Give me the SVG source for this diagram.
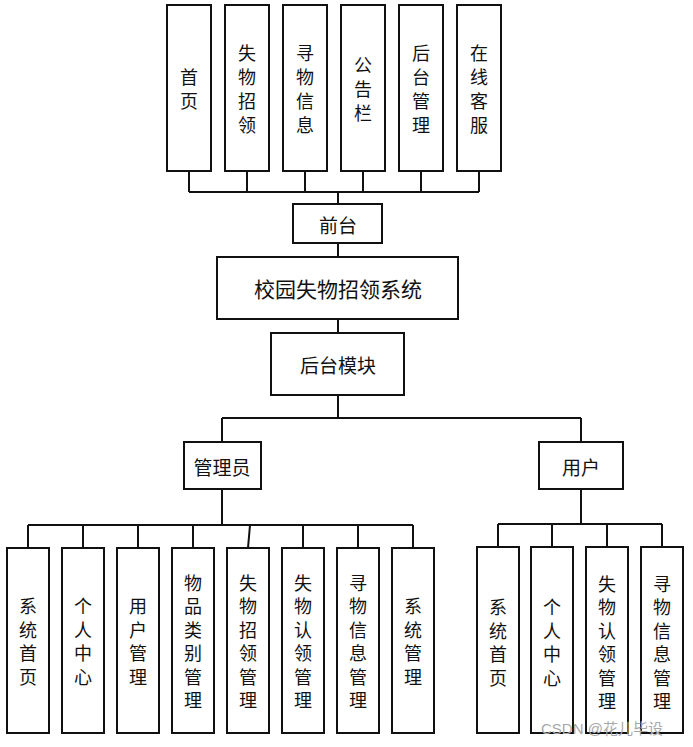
<svg xmlns="http://www.w3.org/2000/svg" width="693" height="747" viewBox="0 0 693 747">
<style>
.box{fill:#fff;stroke:#111;stroke-width:2}
.ln{stroke:#111;stroke-width:2;fill:none}
.t{font-family:"Noto Sans CJK SC","Noto Sans",sans-serif;fill:#111;text-anchor:middle;dominant-baseline:central}
.s18{font-size:18px}
.s19{font-size:19px}
.s21{font-size:21px}
.wm{font-family:"Liberation Sans","Noto Sans CJK SC",sans-serif;font-size:15px;fill:#a8a8a8}
</style>
<rect width="693" height="747" fill="#fff"/>
<g id="connectors">
<path class="ln" d="M189 171V192M247 171V192M305 171V192M363 171V192M421 171V192M479 171V192M189 192H479M338 192V204"/>
<path class="ln" d="M338 243V257M338 319V333M338 395V418M222 418H581M222 418V442M581 418V442"/>
<path class="ln" d="M222 489V525M28 525H413M28 525V548M83 525V548M138 525V548M193 525V548M250 525L248 548M303 525V548M358 525V548M413 525V548"/>
<path class="ln" d="M581 489V524M498 524H662M498 524V547M552 524V547M607 524V547M662 524V547"/>
</g>
<g id="n-home"><rect class="box" x="167" y="5" width="44" height="166"/><text class="t s18"><tspan x="189" y="76">首</tspan><tspan x="189" y="100">页</tspan></text></g>
<g id="n-lost"><rect class="box" x="225" y="5" width="44" height="166"/><text class="t s18"><tspan x="247" y="52">失</tspan><tspan x="247" y="76">物</tspan><tspan x="247" y="100">招</tspan><tspan x="247" y="124">领</tspan></text></g>
<g id="n-seek"><rect class="box" x="283" y="5" width="44" height="166"/><text class="t s18"><tspan x="305" y="52">寻</tspan><tspan x="305" y="76">物</tspan><tspan x="305" y="100">信</tspan><tspan x="305" y="124">息</tspan></text></g>
<g id="n-notice"><rect class="box" x="341" y="5" width="44" height="166"/><text class="t s18"><tspan x="363" y="64">公</tspan><tspan x="363" y="88">告</tspan><tspan x="363" y="112">栏</tspan></text></g>
<g id="n-admin-link"><rect class="box" x="399" y="5" width="44" height="166"/><text class="t s18"><tspan x="421" y="52">后</tspan><tspan x="421" y="76">台</tspan><tspan x="421" y="100">管</tspan><tspan x="421" y="124">理</tspan></text></g>
<g id="n-service"><rect class="box" x="457" y="5" width="44" height="166"/><text class="t s18"><tspan x="479" y="52">在</tspan><tspan x="479" y="76">线</tspan><tspan x="479" y="100">客</tspan><tspan x="479" y="124">服</tspan></text></g>
<g id="n-front"><rect class="box" x="293" y="204" width="89" height="39"/><text class="t s19" x="338" y="224">前台</text></g>
<g id="n-system"><rect class="box" x="217" y="257" width="241" height="62"/><text class="t s21" x="338" y="288">校园失物招领系统</text></g>
<g id="n-backend"><rect class="box" x="271" y="333" width="133" height="62"/><text class="t s19" x="338" y="364">后台模块</text></g>
<g id="n-adminrole"><rect class="box" x="184" y="442" width="77" height="47"/><text class="t s19" x="222" y="466">管理员</text></g>
<g id="n-userrole"><rect class="box" x="539" y="442" width="84" height="47"/><text class="t s19" x="581" y="466">用户</text></g>
<g id="a-home"><rect class="box" x="7" y="548" width="42" height="185"/><text class="t s18"><tspan x="28" y="605">系</tspan><tspan x="28" y="628.5">统</tspan><tspan x="28" y="652">首</tspan><tspan x="28" y="675.5">页</tspan></text></g>
<g id="a-center"><rect class="box" x="62" y="548" width="42" height="185"/><text class="t s18"><tspan x="83" y="605">个</tspan><tspan x="83" y="628.5">人</tspan><tspan x="83" y="652">中</tspan><tspan x="83" y="675.5">心</tspan></text></g>
<g id="a-user"><rect class="box" x="117" y="548" width="42" height="185"/><text class="t s18"><tspan x="138" y="605">用</tspan><tspan x="138" y="628.5">户</tspan><tspan x="138" y="652">管</tspan><tspan x="138" y="675.5">理</tspan></text></g>
<g id="a-category"><rect class="box" x="172" y="548" width="42" height="185"/><text class="t s18"><tspan x="193" y="581.5">物</tspan><tspan x="193" y="605">品</tspan><tspan x="193" y="628.5">类</tspan><tspan x="193" y="652">别</tspan><tspan x="193" y="675.5">管</tspan><tspan x="193" y="699">理</tspan></text></g>
<g id="a-lost"><rect class="box" x="227" y="548" width="42" height="185"/><text class="t s18"><tspan x="248" y="581.5">失</tspan><tspan x="248" y="605">物</tspan><tspan x="248" y="628.5">招</tspan><tspan x="248" y="652">领</tspan><tspan x="248" y="675.5">管</tspan><tspan x="248" y="699">理</tspan></text></g>
<g id="a-claim"><rect class="box" x="282" y="548" width="42" height="185"/><text class="t s18"><tspan x="303" y="581.5">失</tspan><tspan x="303" y="605">物</tspan><tspan x="303" y="628.5">认</tspan><tspan x="303" y="652">领</tspan><tspan x="303" y="675.5">管</tspan><tspan x="303" y="699">理</tspan></text></g>
<g id="a-seek"><rect class="box" x="337" y="548" width="42" height="185"/><text class="t s18"><tspan x="358" y="581.5">寻</tspan><tspan x="358" y="605">物</tspan><tspan x="358" y="628.5">信</tspan><tspan x="358" y="652">息</tspan><tspan x="358" y="675.5">管</tspan><tspan x="358" y="699">理</tspan></text></g>
<g id="a-sys"><rect class="box" x="392" y="548" width="42" height="185"/><text class="t s18"><tspan x="413" y="605">系</tspan><tspan x="413" y="628.5">统</tspan><tspan x="413" y="652">管</tspan><tspan x="413" y="675.5">理</tspan></text></g>
<g id="u-home"><rect class="box" x="477" y="547" width="42" height="186"/><text class="t s18"><tspan x="498" y="606">系</tspan><tspan x="498" y="629.5">统</tspan><tspan x="498" y="653">首</tspan><tspan x="498" y="676.5">页</tspan></text></g>
<g id="u-center"><rect class="box" x="531" y="547" width="42" height="186"/><text class="t s18"><tspan x="552" y="606">个</tspan><tspan x="552" y="629.5">人</tspan><tspan x="552" y="653">中</tspan><tspan x="552" y="676.5">心</tspan></text></g>
<g id="u-claim"><rect class="box" x="586" y="547" width="42" height="186"/><text class="t s18"><tspan x="607" y="582.5">失</tspan><tspan x="607" y="606">物</tspan><tspan x="607" y="629.5">认</tspan><tspan x="607" y="653">领</tspan><tspan x="607" y="676.5">管</tspan><tspan x="607" y="700">理</tspan></text></g>
<g id="u-seek"><rect class="box" x="641" y="547" width="42" height="186"/><text class="t s18"><tspan x="662" y="582.5">寻</tspan><tspan x="662" y="606">物</tspan><tspan x="662" y="629.5">信</tspan><tspan x="662" y="653">息</tspan><tspan x="662" y="676.5">管</tspan><tspan x="662" y="700">理</tspan></text></g>
<text class="wm" x="541" y="734">CSDN @花儿毕设</text>
</svg>
